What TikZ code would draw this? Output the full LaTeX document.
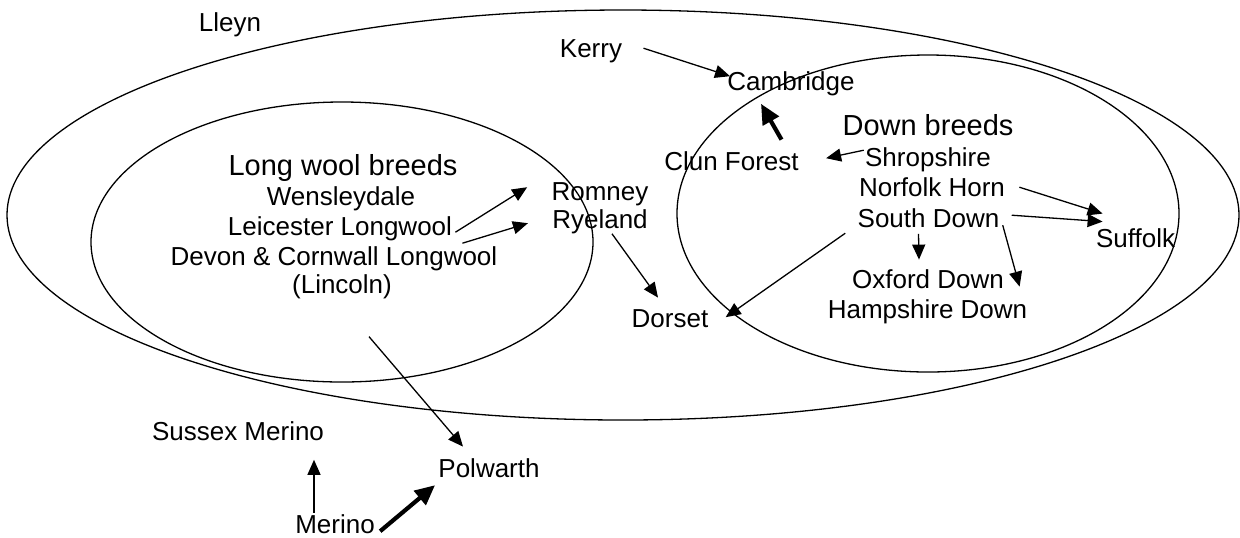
\documentclass[tikz,border=0pt]{standalone}
\usepackage{fontspec}
\setmainfont{Liberation Sans}
\usetikzlibrary{shapes.geometric, arrows.meta, calc}

\tikzset{
  breed/.style={inner sep=0pt, text height=9.5pt, text depth=2.7pt, anchor=base, font=\fontsize{13pt}{15pt}\selectfont},
  grouphead/.style={breed, font=\fontsize{14.5pt}{17pt}\selectfont},
  group/.style={draw, ellipse, inner sep=0pt, line width=0.65pt},
  link/.style={-{Triangle[length=7.5pt, width=6.5pt]}, line width=0.65pt},
  strong link/.style={-{Triangle[length=10pt, width=9pt]}, line width=2.1pt},
}

\begin{document}
\begin{tikzpicture}[x=0.5pt, y=-0.5pt]
  \useasboundingbox (0,0) rectangle (1240,537);

  % breed groups
  \node[group, minimum width=616pt, minimum height=205pt] (lleynset) at (623,215) {};
  \node[group, minimum width=251pt, minimum height=140pt] (longwool) at (342,242) {};
  \node[group, minimum width=251pt, minimum height=158.5pt] (downset) at (928,213.5) {};

  \node[breed] (lleyn) at (230,31) {Lleyn};
  \node[breed] (kerry) at (591,57) {Kerry};
  \node[breed] (cambridge) at (791,90) {Cambridge};
  \node[breed] (clun) at (731.5,170) {Clun Forest};
  \node[breed] (romney) at (600,200) {Romney};
  \node[breed] (ryeland) at (600,228) {Ryeland};
  \node[breed] (dorset) at (670,327) {Dorset};

  % long wool breeds
  \node[grouphead] (longhead) at (343,175) {Long wool breeds};
  \node[breed] (wensley) at (341,205) {Wensleydale};
  \node[breed] (leicester) at (340,235) {Leicester Longwool};
  \node[breed] (devon) at (334,265) {Devon \& Cornwall Longwool};
  \node[breed] (lincoln) at (342,293) {(Lincoln)};

  % down breeds
  \node[grouphead] (downhead) at (928,135) {Down breeds};
  \node[breed] (shrop) at (928,166) {Shropshire};
  \node[breed] (norfolk) at (932,196) {Norfolk Horn};
  \node[breed] (southdown) at (928.5,227) {South Down};
  \node[breed] (oxford) at (928,288) {Oxford Down};
  \node[breed] (hampshire) at (927.5,318) {Hampshire Down};
  \node[breed] (suffolk) at (1135.5,247) {Suffolk};

  % merinos
  \node[breed] (sussex) at (238,440) {Sussex Merino};
  \node[breed] (polwarth) at (489,477) {Polwarth};
  \node[breed] (merino) at (335,533) {Merino};

  % crosses
  \draw[link] ($(kerry.east)+(21,-2)$) -- ($(cambridge.west)+(3,-7)$);
  \draw[strong link] ($(clun.north)+(50,-11)$) -- ($(cambridge.south)+(-30,8)$);
  \draw[link] ($(shrop.west)+(-1,-9)$) -- ($(clun.east)+(27,-5)$);
  \draw[link] ($(norfolk.east)+(14,-2)$) -- ($(suffolk.north west)+(7,-14)$);
  \draw[link] ($(southdown.east)+(12,-5)$) -- ($(suffolk.north west)+(7,-6)$);
  \draw[link] ($(southdown.south)+(-10,1)$) -- ($(oxford.north)+(-9,-9)$);
  \draw[link] ($(southdown.east)+(3,5)$) -- ($(hampshire.north east)+(-8,-12)$);
  \draw[link] ($(southdown.west)+(-12,13)$) -- ($(dorset.east)+(17,-3)$);
  \draw[link] ($(ryeland.south)+(12,0)$) -- ($(dorset.north)+(-12,-10)$);
  \draw[link] ($(leicester.east)+(3,4)$) -- ($(romney.west)+(-24,-6)$);
  \draw[link] ($(leicester.east)+(10,15)$) -- ($(ryeland.west)+(-24,2)$);
  \draw[link] ($(longwool.south)+(27,-46)$) -- ($(polwarth.north)+(-26,-11)$);
  \draw[link] ($(merino.north)+(-21,-1)$) -- ($(sussex.south)+(76,14)$);
  \draw[strong link] ($(merino.east)+(5,5)$) -- ($(polwarth.west)+(-3,15)$);
\end{tikzpicture}
\end{document}
